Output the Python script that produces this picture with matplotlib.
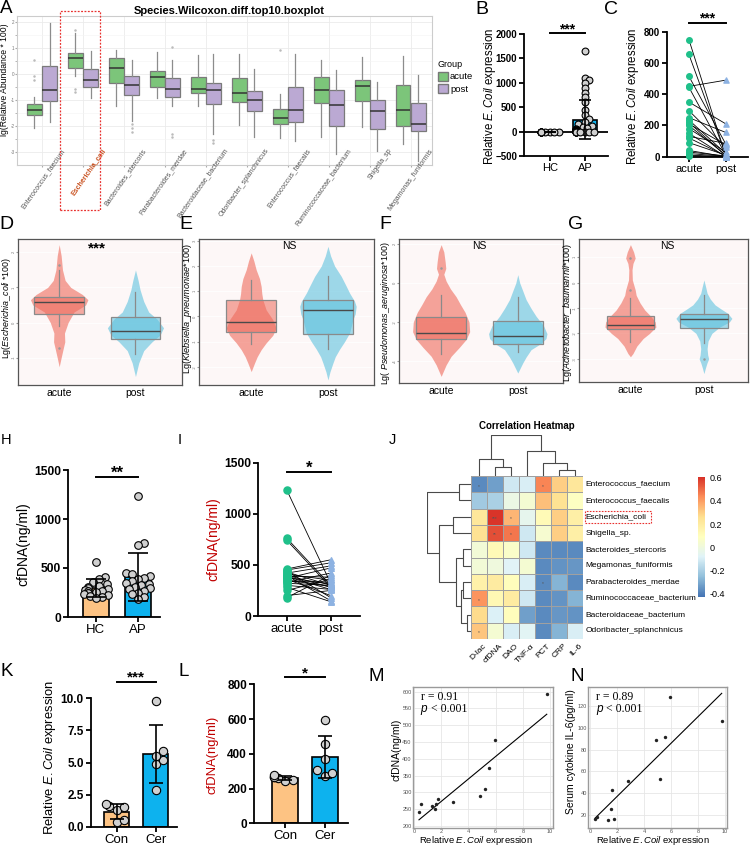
import numpy as np
import matplotlib
matplotlib.use("Agg")
import matplotlib.pyplot as plt
import matplotlib.transforms as mtrans
import matplotlib.colors as mcolors
from matplotlib.patches import Patch, Rectangle
from matplotlib.colors import LinearSegmentedColormap, Normalize
from matplotlib.cm import ScalarMappable

plt.rcParams['font.family'] = ['Liberation Sans', 'DejaVu Sans']
plt.rcParams['mathtext.fontset'] = 'custom'
plt.rcParams['mathtext.it'] = 'Liberation Sans:italic'
plt.rcParams['mathtext.rm'] = 'Liberation Sans'
plt.rcParams['mathtext.bf'] = 'Liberation Sans:bold'

# ---------------- data ----------------
# A: top10 species, lg(relative abundance*100), box statistics
species = ["Enterococcus_faecium", "Escherichia_coli", "Bacteroides_stercoris",
           "Parabacteroides_merdae", "Bacteroidaceae_bacterium", "Odoribacter_splanchnicus",
           "Enterococcus_faecalis", "Ruminococcaceae_bacterium", "Shigella_sp",
           "Megamonas_funiformis"]
acute_med = [-1.38, 0.62, 0.23, -0.12, -0.58, -0.74, -1.72, -0.62, -0.46, -1.41]
acute_q1 = [-1.59, 0.23, -0.35, -0.52, -0.75, -1.10, -1.94, -1.12, -1.06, -2.00]
acute_q3 = [-1.16, 0.80, 0.62, 0.12, -0.12, -0.15, -1.35, -0.12, -0.23, -0.44]
acute_lo = [-2.10, -0.10, -1.23, -0.94, -1.25, -1.96, -2.48, -2.45, -2.06, -2.70]
acute_hi = [-0.90, 1.55, 0.90, 0.84, 0.71, 0.75, -0.77, 0.52, 0.65, 0.68]
acute_out = [[0.54, -0.10, -0.25], [1.70, -0.60, -0.72], [], [], [], [], [0.93], [], [], []]
post_med = [-0.61, -0.23, -0.44, -0.58, -0.62, -1.00, -1.38, -1.21, -1.42, -1.94]
post_q1 = [-1.03, -0.50, -0.81, -0.90, -1.16, -1.45, -1.87, -2.00, -2.13, -2.22]
post_q3 = [0.28, 0.17, -0.08, -0.15, -0.37, -0.66, -0.52, -0.61, -1.00, -1.14]
post_lo = [-1.87, -0.94, -1.80, -1.23, -2.30, -2.45, -2.58, -3.07, -2.99, -3.35]
post_hi = [1.94, 0.88, 0.52, 0.54, 0.75, 0.19, 0.77, 0.13, -0.30, -0.06]
post_out = [[], [], [-1.95, -2.10, -2.26], [1.03, -2.30, -2.45], [-2.55, -2.65], [], [], [], [], []]

# B: relative E.Coil expression, HC vs AP
b_hc = [0.5, 1.0, 0.8, 1.2, 0.9, 1.1, 0.7, 1.3, 1.0, 0.6, 1.4, 0.9]
b_ap = [1650, 1100, 1050, 1000, 900, 800, 700, 600, 450, 350, 250, 200, 150, 120, 100,
        80, 60, 50, 40, 30, 25, 20, 15, 10, 10, 8, 6, 5, 4, 3, 2, 2, 1, 1, 0, 0, 0, 0, 0, 0]

# C: paired E.Coil expression acute -> post
c_acute = [750, 655, 515, 450, 445, 350, 295, 250, 235, 220, 210, 200, 180, 150, 130, 120, 90, 40, 30, 20, 10, 5]
c_post = [5, 10, 80, 490, 10, 210, 60, 155, 20, 5, 75, 10, 30, 0, 85, 5, 10, 0, 5, 2, 0, 0]

# D-G: violin outlines (value, half width) and box stats [med, q1, q3, lo, hi]
d_acute_y = [2.22, 1.9, 1.5, 1.2, 1.0, 0.8, 0.65, 0.5, 0.3, 0.0, -0.3, -0.55, -0.75, -1.0, -1.26]
d_acute_w = [0, 6, 10, 18, 35, 70, 87, 80, 45, 27, 16, 17, 12, 6, 0]
d_post_y = [1.5, 1.2, 0.93, 0.6, 0.3, 0.1, -0.15, -0.35, -0.55, -0.8, -1.15, -1.54]
d_post_w = [0, 8, 14, 25, 40, 65, 85, 75, 50, 25, 10, 0]
d_box = [[0.59, 0.24, 0.74, -0.10, 1.50], [-0.23, -0.48, 0.17, -0.90, 0.86]]
d_out = [[1.65, -0.72], []]

e_acute_y = [2.52, 2.2, 1.85, 1.5, 1.19, 0.9, 0.66, 0.26, -0.13, -0.46, -0.75, -1.05, -1.32, -1.6, -1.85, -2.19]
e_acute_w = [0, 8, 15, 25, 30, 32, 35, 45, 65, 75, 65, 45, 30, 18, 10, 0]
e_post_y = [2.78, 2.4, 2.0, 1.59, 1.2, 0.93, 0.6, 0.4, 0.1, -0.13, -0.4, -0.66, -1.0, -1.3, -1.6, -1.85, -2.2, -2.52]
e_post_w = [0, 8, 20, 40, 55, 65, 80, 85, 82, 75, 70, 65, 50, 35, 22, 15, 6, 0]
e_box = [[-0.24, -0.60, 0.64, -1.09, 1.43], [0.26, -0.70, 0.66, -1.30, 1.62]]
e_out = [[], []]

f_acute_y = [1.97, 1.6, 1.1, 0.75, 0.45, 0.1, -0.3, -0.7, -1.1, -1.5, -2.0, -2.5, -2.9, -3.3, -3.76, -4.2, -4.79]
f_acute_w = [0, 8, 12, 14, 8, 15, 28, 45, 58, 72, 84, 86, 75, 55, 30, 15, 0]
f_post_y = [0.43, 0.0, -0.4, -0.85, -1.3, -1.7, -2.2, -2.6, -2.85, -3.1, -3.42, -3.8, -4.1, -4.62]
f_post_w = [0, 6, 15, 25, 40, 55, 78, 88, 85, 70, 40, 25, 15, 0]
f_box = [[-2.56, -2.87, -1.76, -3.64, -0.60], [-2.74, -3.13, -1.97, -3.56, -0.72]]
f_out = [[0.75], []]

g_acute_y = [1.49, 1.2, 0.96, 0.75, 0.5, 0.1, -0.29, -0.5, -0.8, -1.08, -1.3, -1.55, -1.75, -2.0, -2.2, -2.5, -2.79, -2.92]
g_acute_w = [0, 10, 15, 8, 5, 6, 15, 18, 30, 45, 62, 78, 80, 60, 40, 20, 8, 0]
g_post_y = [0.1, -0.2, -0.42, -0.65, -0.88, -1.05, -1.21, -1.41, -1.55, -1.75, -2.0, -2.3, -2.6, -2.85, -3.0, -3.15, -3.35, -3.58]
g_post_w = [0, 6, 10, 20, 35, 55, 75, 88, 80, 50, 25, 13, 10, 12, 15, 10, 5, 0]
g_box = [[-1.68, -1.84, -1.32, -2.33, -0.59], [-1.43, -1.80, -1.25, -2.37, -0.49]]
g_out = [[0.96, -0.30], [-3.00]]

# H: cfDNA HC vs AP
h_hc = [565, 410, 390, 360, 340, 320, 310, 300, 290, 280, 270, 265, 260, 250, 240, 230, 220, 210, 200, 190]
h_ap = [1230, 760, 730, 450, 440, 420, 400, 390, 370, 350, 340, 330, 310, 300, 290, 270, 250, 230, 200, 180]

# I: paired cfDNA acute -> post
i_acute = [1230, 760, 740, 460, 450, 440, 430, 420, 410, 400, 395, 390, 385, 380, 370, 360, 350, 340, 330, 320, 300, 280, 250, 200, 180]
i_post = [320, 300, 280, 550, 520, 180, 300, 490, 350, 280, 150, 380, 260, 310, 470, 200, 290, 330, 420, 300, 260, 140, 360, 250, 400]

# J: correlation heatmap
hm_rows = ["Enterococcus_faecium", "Enterococcus_faecalis", "Escherichia_coli", "Shigella_sp.",
           "Bacteroides_stercoris", "Megamonas_funiformis", "Parabacteroides_merdae",
           "Ruminococcaceae_bacterium", "Bacteroidaceae_bacterium", "Odoribacter_splanchnicus"]
hm_cols = ["D-lac", "cfDNA", "DAO", "TNF-α", "PCT", "CRP", "IL-6"]
hm_vals = [
    [-0.38, -0.33, -0.12, -0.10, 0.45, 0.30, 0.22],
    [-0.22, -0.20, -0.02, 0.03, 0.33, 0.25, 0.08],
    [0.22, 0.60, 0.35, -0.05, 0.12, 0.30, 0.18],
    [0.25, 0.55, 0.48, -0.12, 0.04, 0.30, 0.18],
    [0.02, 0.12, 0.06, -0.12, -0.38, -0.38, -0.38],
    [0.02, 0.00, -0.08, 0.03, -0.38, -0.36, -0.35],
    [0.17, 0.20, 0.10, -0.10, -0.38, -0.28, -0.38],
    [0.42, 0.13, 0.20, -0.12, -0.38, -0.36, -0.28],
    [0.27, -0.09, 0.10, -0.33, -0.38, -0.35, -0.36],
    [0.32, 0.03, -0.10, -0.07, -0.38, -0.28, -0.10],
]
hm_stars = [
    ["*", "", "", "", "*", "", ""],
    ["", "", "", "", "", "", ""],
    ["", "***", "*", "", "", "", ""],
    ["", "**", "*", "", "", "", ""],
    ["", "", "", "", "", "", ""],
    ["", "", "", "", "", "", ""],
    ["", "", "", "", "*", "", ""],
    ["*", "", "", "", "", "", ""],
    ["", "", "", "", "", "", ""],
    ["*", "", "", "", "", "", ""],
]
# dendrogram merges: (node a, node b, height)
col_merges = [(1, 2, 9.3), (0, 7, 17.7), (5, 6, 6.0), (4, 9, 13.3), (3, 10, 25.3), (8, 11, 41.0)]
row_merges = [(0, 1, 11.4), (2, 3, 17.4), (4, 5, 7.4), (6, 7, 8.0), (8, 9, 4.0),
              (13, 14, 10.0), (12, 15, 15.0), (11, 16, 31.7), (10, 17, 43.3)]
hm_palette = ["#4575B4", "#91BFDB", "#E0F3F8", "#FFFFBF", "#FEE090", "#FC8D59", "#D73027"]

# K-N: mouse samples (Con / Cer)
ecoli = [0.37, 0.49, 1.32, 1.54, 1.61, 1.76, 2.85, 4.88, 5.20, 5.54, 5.93, 9.76]
cfdna = [241, 264, 259, 251, 266, 279, 272, 289, 309, 372, 456, 592]
il6 = [17, 18.8, 15.5, 26, 42.7, 17, 51.2, 88.5, 53.3, 91.5, 127.9, 105.8]
mouse_group = ["Con"] * 6 + ["Cer"] * 6

# ---------------- helpers ----------------
W, H = 750, 847
fig = plt.figure(figsize=(W / 100, H / 100), dpi=100)

c_green_box = '#7CC57A'
c_purple_box = '#BBA9D3'
c_orange = '#FDC383'
c_blue = '#0DB2EE'
c_dot_green = '#1FC08A'
c_tri = '#8DB2E2'
c_red = '#EE6A5B'
c_cyan = '#5EC2DE'
c_darkred = '#C00000'


def px_axes(x0, y0, x1, y1):
    return fig.add_axes([x0 / W, 1 - y1 / H, (x1 - x0) / W, (y1 - y0) / H])


def ftext(x, y, s, **kw):
    return fig.text(x / W, 1 - y / H, s, **kw)


def px_per_unit(ax):
    bb = ax.get_position()
    xr, yr = ax.get_xlim(), ax.get_ylim()
    return bb.width * W / (xr[1] - xr[0]), bb.height * H / (yr[1] - yr[0])


def swarm(vals, center, ppx, ppy, gap, limit):
    vals = np.asarray(vals, float)
    xs = np.full(len(vals), float(center))
    placed = []
    for i in np.argsort(vals):
        y = vals[i] * ppy
        best = 0.0
        for k in range(60):
            cands = [0.0] if k == 0 else [k * gap / 2, -k * gap / 2]
            done = False
            for off in cands:
                if all((off - px) ** 2 + (y - py) ** 2 >= gap ** 2 for px, py in placed):
                    best, done = off, True
                    break
            if done:
                break
        if abs(best) > limit:
            best = ((best + limit) % (2 * limit)) - limit
        placed.append((best, y))
        xs[i] = center + best / ppx
    return xs


def prism(ax, fs_tick, fs_x):
    for s in ['top', 'right']:
        ax.spines[s].set_visible(False)
    for s in ['left', 'bottom']:
        ax.spines[s].set_linewidth(1.3)
    ax.tick_params(width=1.3, length=3.5, pad=1.5)
    ax.tick_params(axis='y', labelsize=fs_tick)
    ax.tick_params(axis='x', labelsize=fs_x)
    for lb in ax.get_yticklabels():
        lb.set_fontweight('bold')


def sig(ax, x0, x1, y, text, fs):
    ax.plot([x0, x1], [y, y], color='black', lw=1.4, clip_on=False)
    ax.text((x0 + x1) / 2, y, text, ha='center', va='baseline', fontsize=fs,
            fontweight='bold', clip_on=False)


def bar_panel(ax, groups, values, xlim, ylim, yticks, width, dot_s, gap, spread, cap, fs_tick, fs_x):
    ax.set_xlim(xlim)
    ax.set_ylim(ylim)
    ppx, ppy = px_per_unit(ax)
    xs = np.arange(len(groups))
    means = [np.mean(v) for v in values]
    sds = [np.std(v, ddof=1) for v in values]
    ax.bar(xs, means, width, color=[c_orange, c_blue], edgecolor='black', lw=1.2, zorder=2)
    for i, v in enumerate(values):
        ax.scatter(swarm(v, i, ppx, ppy, gap, spread), v, s=dot_s, fc='#D0D0D0',
                   ec='black', lw=0.8, zorder=3, clip_on=False)
    ax.errorbar(xs, means, yerr=sds, fmt='none', ecolor='black', elinewidth=1.2,
                capsize=cap, capthick=1.2, zorder=4)
    ax.set_xticks(xs)
    ax.set_xticklabels(groups)
    ax.set_yticks(yticks)
    prism(ax, fs_tick, fs_x)


def paired_panel(ax, a, p, xlim, ylim, yticks, dot_s, tri_s, fs_tick, fs_x):
    for y0, y1 in zip(a, p):
        ax.plot([0, 1], [y0, y1], color='black', lw=0.6, zorder=2)
    ax.scatter(np.zeros(len(a)), a, s=dot_s, color=c_dot_green, zorder=3, clip_on=False)
    ax.scatter(np.ones(len(p)), p, s=tri_s, marker='^', color=c_tri, zorder=3, clip_on=False)
    ax.set_xlim(xlim)
    ax.set_ylim(ylim)
    ax.set_xticks([0, 1])
    ax.set_xticklabels(['acute', 'post'])
    ax.set_yticks(yticks)
    prism(ax, fs_tick, fs_x)


def violin_panel(ax, shapes, boxes, fliers, xlim, ylim, yticks, tag, tag_fs, tag_bold):
    ax.set_facecolor('#FDF7F7')
    cols = [c_red, c_cyan]
    for k, (ys, ws) in enumerate(shapes):
        half = np.asarray(ws) / 231.0
        ax.fill_betweenx(ys, k + 1 - half, k + 1 + half, color=cols[k], alpha=0.6, lw=0, zorder=1)
    stats = [dict(med=b[0], q1=b[1], q3=b[2], whislo=b[3], whishi=b[4], fliers=f)
             for b, f in zip(boxes, fliers)]
    bp = ax.bxp(stats, positions=[1, 2], widths=0.65, patch_artist=True, showcaps=False,
                boxprops=dict(edgecolor='#8a8a8a', linewidth=0.9),
                medianprops=dict(color='#4a4a4a', lw=1.0),
                whiskerprops=dict(color='#8a8a8a', lw=0.9),
                flierprops=dict(marker='o', ms=0.8, mfc='#999999', mec='#999999'), zorder=2)
    for patch, c in zip(bp['boxes'], cols):
        patch.set_facecolor(mcolors.to_rgba(c, 0.55))
    ax.set_xlim(xlim)
    ax.set_ylim(ylim)
    ax.set_xticks([1, 2])
    ax.set_xticklabels(['acute', 'post'], fontsize=7.5)
    ax.set_yticks(yticks)
    ax.set_yticklabels([str(t) for t in yticks], fontsize=3, color='#777777', rotation=90, va='center')
    ax.tick_params(axis='y', length=1.2, pad=0.5, color='#999999')
    ax.tick_params(axis='x', length=0, pad=2)
    ax.grid(axis='y', color='white', lw=0.6)
    ax.set_axisbelow(True)
    for s in ax.spines.values():
        s.set_color('#555555')
        s.set_linewidth(0.9)
    ax.text(1.5, 0.985, tag, transform=mtrans.blended_transform_factory(ax.transData, ax.transAxes),
            ha='center', va='top', fontsize=tag_fs, fontweight='bold' if tag_bold else 'normal')


def dendro(ax, merges, n, vertical):
    pos = {i: i + 0.5 for i in range(n)}
    hgt = {i: 0.0 for i in range(n)}
    for k, (a, b, h) in enumerate(merges):
        ps = [pos[a], pos[a], pos[b], pos[b]]
        hs = [hgt[a], h, h, hgt[b]]
        if vertical:
            ax.plot(ps, hs, color='#4a4a4a', lw=0.8, solid_capstyle='butt')
        else:
            ax.plot(hs, ps, color='#4a4a4a', lw=0.8, solid_capstyle='butt')
        pos[n + k] = (pos[a] + pos[b]) / 2
        hgt[n + k] = h
    ax.axis('off')


def scatter_panel(ax, xs, ys, xlim, ylim, yticks, rtxt):
    ax.scatter(xs, ys, s=6, color='#222222', zorder=3, lw=0)
    k, b = np.polyfit(xs, ys, 1)
    xx = np.array([min(xs), max(xs)])
    ax.plot(xx, k * xx + b, color='black', lw=0.8, zorder=2)
    ax.set_xlim(xlim)
    ax.set_ylim(ylim)
    ax.set_xticks([0, 2, 4, 6, 8, 10])
    ax.set_yticks(yticks)
    ax.tick_params(labelsize=4, colors='#555555', length=0, pad=1.0)
    ax.grid(color='#E6E6E6', lw=0.6)
    ax.set_axisbelow(True)
    for s in ax.spines.values():
        s.set_color('#9a9a9a')
        s.set_linewidth(1.0)
    ax.text(0.055, 0.925, rtxt, transform=ax.transAxes, fontsize=8.5, family='Liberation Serif',
            va='center', ha='left')
    ax.text(0.055, 0.845, 'p', transform=ax.transAxes, fontsize=8.5, style='italic', va='center', ha='left')
    ax.text(0.125, 0.845, '< 0.001', transform=ax.transAxes, fontsize=8.5, family='Liberation Serif',
            va='center', ha='left')


# ---------------- A ----------------
axA = px_axes(17, 16, 432, 165)
pos = np.arange(1, len(species) + 1)
a_stats = [dict(med=acute_med[i], q1=acute_q1[i], q3=acute_q3[i], whislo=acute_lo[i],
                whishi=acute_hi[i], fliers=acute_out[i]) for i in range(len(species))]
p_stats = [dict(med=post_med[i], q1=post_q1[i], q3=post_q3[i], whislo=post_lo[i],
                whishi=post_hi[i], fliers=post_out[i]) for i in range(len(species))]
bp_kw = dict(widths=0.36, patch_artist=True, showcaps=False,
             medianprops=dict(color='#333333', lw=1.1),
             whiskerprops=dict(color='#8c8c8c', lw=0.9),
             flierprops=dict(marker='o', ms=0.8, mfc='#bbbbbb', mec='#bbbbbb'))
axA.bxp(a_stats, positions=pos - 0.185,
        boxprops=dict(facecolor=c_green_box, edgecolor='#7a7a7a', linewidth=0.9), **bp_kw)
axA.bxp(p_stats, positions=pos + 0.185,
        boxprops=dict(facecolor=c_purple_box, edgecolor='#7a7a7a', linewidth=0.9), **bp_kw)
axA.set_xlim(0.39, 10.52)
axA.set_ylim(-3.51, 2.22)
axA.set_yticks([-3, -2, -1, 0, 1, 2])
axA.set_yticks([-2.5, -1.5, -0.5, 0.5, 1.5], minor=True)
axA.set_yticklabels(['-3', '-2', '-1', '0', '1', '2'], fontsize=3.3, color='#777777')
axA.set_xticks(pos)
axA.set_xticklabels([])
axA.tick_params(axis='both', which='both', length=1.2, color='#aaaaaa', pad=0.6)
axA.grid(which='major', color='#EBEBEB', lw=0.6)
axA.grid(which='minor', axis='y', color='#F4F4F4', lw=0.4)
axA.set_axisbelow(True)
for s in axA.spines.values():
    s.set_color('#CCCCCC')
    s.set_linewidth(0.8)
trA = mtrans.blended_transform_factory(axA.transData, axA.transAxes)
for i, name in enumerate(species):
    hl = name == "Escherichia_coli"
    axA.text(pos[i] + 0.45, 0.12, name, transform=trA, rotation=55, ha='right', va='top',
             rotation_mode='anchor', fontsize=5, clip_on=False,
             color='#C8501E' if hl else '#555555', fontweight='bold' if hl else 'normal')
ftext(229, 11.5, "Species.Wilcoxon.diff.top10.boxplot", ha='center', va='center',
      fontsize=8, fontweight='bold')
ftext(5, 80, "lg(Relative Abundance * 100)", rotation=90, ha='center', va='center', fontsize=6.2)
fig.legend(handles=[Patch(facecolor=c_green_box, edgecolor='#777777'),
                    Patch(facecolor=c_purple_box, edgecolor='#777777')],
           labels=['acute', 'post'], title='Group', loc='upper left',
           bbox_to_anchor=(433 / W, 1 - 55 / H), frameon=False, fontsize=6.8, title_fontsize=6.5,
           handlelength=1.1, handleheight=1.1, handletextpad=0.2, labelspacing=0.3,
           alignment='left', borderpad=0)
fig.add_artist(Rectangle((60 / W, 1 - 210 / H), 40 / W, 199 / H, transform=fig.transFigure,
                         fill=False, ec='#E8312F', lw=0.9, ls=(0, (1.5, 1.2))))

# ---------------- B ----------------
axB = px_axes(524, 34, 608, 156)
bar_panel(axB, ['HC', 'AP'], [b_hc, b_ap], (-0.74, 1.66), (-500, 2000),
          [-500, 0, 500, 1000, 1500, 2000], 0.69, 24, 4.5, 11, 4.5, 7, 8)
axB.axhline(0, color='black', lw=1.3, zorder=1)
sig(axB, 0, 1, 2014, '***', 10)
ftext(490, 96, r"Relative $\mathit{E.Coil}$ expression", rotation=90, ha='center', va='center', fontsize=8.3)

# ---------------- C ----------------
axC = px_axes(666.7, 31.7, 748, 156.7)
paired_panel(axC, c_acute, c_post, (-0.6, 1.6), (0, 800), [0, 200, 400, 600, 800], 16, 14, 7, 8)
sig(axC, 0, 1, 857, '***', 10)
ftext(633, 96, r"Relative $\mathit{E.Coil}$ expression", rotation=90, ha='center', va='center', fontsize=8.3)

# ---------------- D-G ----------------
axD = px_axes(18, 239, 182, 385)
violin_panel(axD, [(d_acute_y, d_acute_w), (d_post_y, d_post_w)], d_box, d_out,
             (0.46, 2.61), (-1.78, 2.38), [-1, 0, 1, 2], '***', 11, True)
axE = px_axes(199, 239, 374, 385)
violin_panel(axE, [(e_acute_y, e_acute_w), (e_post_y, e_post_w)], e_box, e_out,
             (0.32, 2.6), (-2.72, 3.07), [-2, -1, 0, 1, 2, 3], 'NS', 7.5, False)
axF = px_axes(399, 239, 563, 383)
violin_panel(axF, [(f_acute_y, f_acute_w), (f_post_y, f_post_w)], f_box, f_out,
             (0.45, 2.59), (-5.13, 2.26), [-4, -2, 0, 2], 'NS', 7.5, False)
axG = px_axes(579, 239, 748, 382)
violin_panel(axG, [(g_acute_y, g_acute_w), (g_post_y, g_post_w)], g_box, g_out,
             (0.3, 2.6), (-3.91, 1.71), [-3, -2, -1, 0, 1], 'NS', 7.5, False)
ftext(6.5, 308, r"Lg($\mathit{Escherichia\_coli}$ *100)", rotation=90, ha='center', va='center', fontsize=6.4)
ftext(187, 309, r"Lg($\mathit{Klebsiella\_pneumoniae}$*100)", rotation=90, ha='center', va='center', fontsize=6.6)
ftext(385, 313, r"Lg( $\mathit{Pseudomonas\_aeruginosa}$*100)", rotation=90, ha='center', va='center', fontsize=6.4)
ftext(567, 312, r"Lg($\mathit{Acinetobacter\_baumannii}$*100)", rotation=90, ha='center', va='center', fontsize=6.6)

# ---------------- H ----------------
axH = px_axes(68, 470, 160, 617)
bar_panel(axH, ['HC', 'AP'], [h_hc, h_ap], (-0.65, 1.51), (0, 1500), [0, 500, 1000, 1500],
          0.61, 30, 6, 13, 7, 8.7, 9.5)
sig(axH, 0, 1, 1425, '**', 12)
ftext(23, 544, "cfDNA(ng/ml)", rotation=90, ha='center', va='center', fontsize=10)

# ---------------- I ----------------
axI = px_axes(258, 462.7, 360, 616)
paired_panel(axI, i_acute, i_post, (-0.66, 1.67), (0, 1500), [0, 500, 1000, 1500], 26, 16, 8.7, 9.5)
sig(axI, 0, 1, 1406, '*', 12)
ftext(213, 539, "cfDNA(ng/ml)", rotation=90, ha='center', va='center', fontsize=10, color=c_darkred)

# ---------------- J ----------------
axJ = px_axes(470.7, 476, 583.3, 639)
cmap = LinearSegmentedColormap.from_list('phm', hm_palette)
norm = Normalize(vmin=-0.43, vmax=0.61)
vals = np.array(hm_vals)
axJ.pcolormesh(np.arange(len(hm_cols) + 1), np.arange(len(hm_rows) + 1), vals, cmap=cmap, norm=norm,
               edgecolors='#A0A0A0', linewidth=0.6)
axJ.set_xlim(0, len(hm_cols))
axJ.set_ylim(len(hm_rows), 0)
axJ.axis('off')
for r in range(len(hm_rows)):
    axJ.text(len(hm_cols) + 0.15, r + 0.5, hm_rows[r], ha='left', va='center', fontsize=6, clip_on=False)
    for c in range(len(hm_cols)):
        if hm_stars[r][c]:
            axJ.text(c + 0.5, r + 0.62, hm_stars[r][c], ha='center', va='center', fontsize=3.5, color='#555555')
for c in range(len(hm_cols)):
    axJ.text(c + 0.75, len(hm_rows) + 0.2, hm_cols[c], rotation=45, ha='right', va='top',
             rotation_mode='anchor', fontsize=6, clip_on=False)
axJc = px_axes(470.7, 435, 583.3, 476)
dendro(axJc, col_merges, len(hm_cols), True)
axJc.set_xlim(0, len(hm_cols))
axJc.set_ylim(0, 41.5)
axJr = px_axes(427, 476, 470.7, 639)
dendro(axJr, row_merges, len(hm_rows), False)
axJr.set_ylim(len(hm_rows), 0)
axJr.set_xlim(43.7, 0)
cax = px_axes(698, 476.7, 705, 596.7)
cb = fig.colorbar(ScalarMappable(norm=norm, cmap=cmap), cax=cax)
cb.outline.set_visible(False)
cb.set_ticks([-0.4, -0.2, 0, 0.2, 0.4, 0.6])
cb.set_ticklabels(['-0.4', '-0.2', '0', '0.2', '0.4', '0.6'])
cax.tick_params(length=0, labelsize=6.5, pad=3)
ftext(527, 426, "Correlation Heatmap", ha='center', va='center', fontsize=7, fontweight='bold')
fig.add_artist(Rectangle((585 / W, 1 - 522.7 / H), 65.7 / W, 12 / H, transform=fig.transFigure,
                         fill=False, ec='#E8312F', lw=0.8, ls=(0, (1.5, 1.2))))

# ---------------- K / L ----------------
con_e = [v for v, g in zip(ecoli, mouse_group) if g == "Con"]
cer_e = [v for v, g in zip(ecoli, mouse_group) if g == "Cer"]
con_c = [v for v, g in zip(cfdna, mouse_group) if g == "Con"]
cer_c = [v for v, g in zip(cfdna, mouse_group) if g == "Cer"]
axK = px_axes(90.7, 698.3, 176.7, 826.7)
bar_panel(axK, ['Con', 'Cer'], [con_e, cer_e], (-0.66, 1.53), (0, 10), [0, 2.5, 5, 7.5, 10],
          0.64, 36, 7.5, 13, 4.7, 8.5, 9.5)
axK.set_yticklabels(['0.0', '2.5', '5.0', '7.5', '10.0'], fontweight='bold')
sig(axK, 0, 1, 11.3, '***', 11)
ftext(50, 757, r"Relative $\mathit{E.Coil}$ expression", rotation=90, ha='center', va='center', fontsize=9.4)

axL = px_axes(254, 684.3, 348, 823.3)
bar_panel(axL, ['Con', 'Cer'], [con_c, cer_c], (-0.78, 1.58), (0, 800), [0, 200, 400, 600, 800],
          0.64, 36, 7.5, 13, 4.7, 8.5, 9.5)
sig(axL, 0, 1, 840, '*', 11)
ftext(213, 755, "cfDNA(ng/ml)", rotation=90, ha='center', va='center', fontsize=9.4, color=c_darkred)

# ---------------- M / N ----------------
axM = px_axes(413, 686.7, 553.3, 827.5)
scatter_panel(axM, ecoli, cfdna, (-0.07, 10.24), (195, 615), [200, 250, 300, 350, 400, 450, 500, 550, 600],
              'r = 0.91')
ftext(396, 750, "cfDNA(ng/ml)", rotation=90, ha='center', va='center', fontsize=7.5)
ftext(476, 840, r"Relative $\mathit{E.Coil}$ expression", ha='center', va='center', fontsize=6.8)
axN = px_axes(588.3, 686.7, 726.7, 827.5)
scatter_panel(axN, ecoli, il6, (-0.13, 10.13), (8.8, 137.5), [20, 40, 60, 80, 100, 120], 'r = 0.89')
ftext(571, 752, "Serum cytokine IL-6(pg/ml)", rotation=90, ha='center', va='center', fontsize=7.5)
ftext(653, 840, r"Relative $\mathit{E.Coil}$ expression", ha='center', va='center', fontsize=6.8)

# ---------------- panel letters ----------------
for lt, x, y, fs in [('A', 0, 0, 13.5), ('B', 475, 1, 14), ('C', 604, 1, 14), ('D', -1, 216, 14),
                     ('E', 179, 216, 14), ('F', 379, 216, 14), ('G', 568, 216, 14),
                     ('H', 1, 433, 10.5), ('I', 178, 433, 10.5), ('J', 389, 433, 10.5),
                     ('K', 1, 663, 13.5), ('L', 179, 663, 13.5), ('M', 369, 668, 13.5),
                     ('N', 571, 668, 13.5)]:
    ftext(x, y, lt, ha='left', va='top', fontsize=fs)

fig.savefig('out.png', dpi=100)
